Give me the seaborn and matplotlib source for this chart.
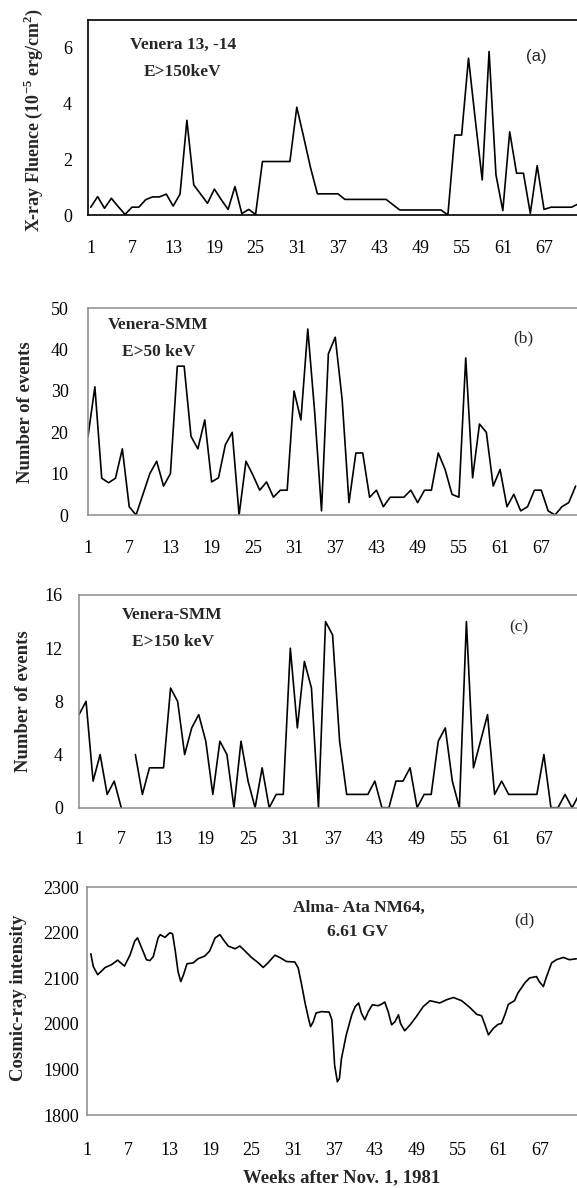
import numpy as np
import pandas as pd
import matplotlib
matplotlib.use("Agg")
import matplotlib.pyplot as plt
import seaborn as sns

# ---------------- data ----------------
weeks = list(range(1, 73))

fluence = [0.28, 0.66, 0.24, 0.6, 0.3, 0.02, 0.28, 0.28, 0.55, 0.65,
           0.65, 0.75, 0.32, 0.75, 3.4, 1.08, 0.75, 0.42, 0.93, 0.55,
           0.2, 1.02, 0.05, 0.2, 0.02, 1.92, 1.92, 1.92, 1.92, 1.92,
           3.87, 2.8, 1.7, 0.76, 0.76, 0.76, 0.76, 0.56, 0.56, 0.56,
           0.56, 0.56, 0.56, 0.56, 0.37, 0.18, 0.18, 0.18, 0.18, 0.18,
           0.18, 0.18, 0.0, 2.87, 2.87, 5.63, 3.4, 1.26, 5.87, 1.44,
           0.16, 2.99, 1.5, 1.5, 0.06, 1.77, 0.2, 0.28, 0.28, 0.28,
           0.28, 0.4]

events_50 = [19, 31, 8.9, 7.8, 8.9, 16, 2, 0, 5, 10,
             13, 7, 10, 36, 36, 19, 16, 23, 8, 9,
             17, 20, 0, 13, 9.7, 6, 8, 4.3, 6, 6,
             30, 23, 45, 25, 1, 39, 43, 28, 3, 15,
             15, 4.3, 6, 2, 4.3, 4.3, 4.3, 6, 3, 6,
             6, 15, 11, 5, 4.3, 38, 9, 22, 20, 7,
             11, 2, 5, 1, 2, 6, 6, 1, 0, 2,
             3, 7]

events_150 = [7, 8, 2, 4, 1, 2, 0, np.nan, 4, 1,
              3, 3, 3, 9, 8, 4, 6, 7, 5, 1,
              5, 4, 0, 5, 2, 0, 3, 0, 1, 1,
              12, 6, 11, 9, 0, 14, 13, 5, 1, 1,
              1, 1, 2, 0, 0, 2, 2, 3, 0, 1,
              1, 5, 6, 2, 0, 14, 3, 5, 7, 1,
              2, 1, 1, 1, 1, 1, 4, 0, 0, 1,
              0, 1]

cr_week = [1.6, 1.96, 2.6, 3.7, 4.6, 5.5, 6.5, 7.3, 8.0, 8.4,
           9.0, 9.7, 10.2, 10.7, 11.4, 11.7, 12.4, 13.1, 13.5, 13.9,
           14.3, 14.7, 15.1, 15.6, 16.5, 17.2, 18.2, 18.9, 19.7, 20.4,
           20.9, 21.6, 22.6, 23.3, 24.0, 25.0, 26.0, 26.7, 27.4, 28.4,
           29.1, 30.1, 31.3, 31.8, 32.3, 32.8, 33.3, 33.6, 34.0, 34.4,
           35.2, 36.3, 36.7, 36.9, 37.1, 37.5, 37.8, 38.1, 38.8, 39.6,
           40.1, 40.6, 41.0, 41.5, 42.0, 42.6, 43.4, 43.9, 44.4, 44.9,
           45.4, 45.9, 46.4, 46.7, 47.3, 48.1, 49.0, 50.0, 51.0, 52.4,
           53.4, 54.4, 55.6, 56.8, 57.8, 58.5, 59.0, 59.5, 60.2, 60.9,
           61.4, 61.9, 62.4, 63.3, 63.8, 64.8, 65.5, 66.5, 66.9, 67.5,
           67.9, 68.7, 69.4, 70.4, 71.3, 72.3]
cr_value = [2154, 2126, 2108, 2124, 2130, 2140, 2127, 2151, 2182, 2189,
            2167, 2141, 2139, 2148, 2189, 2196, 2190, 2200, 2198, 2160,
            2115, 2093, 2108, 2132, 2134, 2143, 2149, 2160, 2189, 2196,
            2185, 2171, 2165, 2171, 2161, 2146, 2134, 2124, 2134, 2151,
            2146, 2137, 2136, 2123, 2086, 2046, 2012, 1994, 2005, 2024,
            2027, 2026, 2009, 1961, 1910, 1873, 1880, 1924, 1976, 2020,
            2038, 2046, 2024, 2009, 2027, 2042, 2040, 2043, 2048, 2027,
            1998, 2005, 2020, 2001, 1985, 1998, 2016, 2038, 2051, 2046,
            2053, 2058, 2051, 2036, 2021, 2018, 1998, 1976, 1990, 1999,
            2001, 2020, 2043, 2051, 2068, 2090, 2101, 2104, 2093, 2082,
            2101, 2134, 2141, 2146, 2141, 2143]

xtick_weeks = [1, 7, 13, 19, 25, 31, 37, 43, 49, 55, 61, 67]

# ---------------- style ----------------
sns.set_style("white")
plt.rcParams["font.family"] = ["Liberation Serif", "DejaVu Serif"]
plt.rcParams["mathtext.fontset"] = "custom"
plt.rcParams["mathtext.rm"] = "Liberation Serif"
plt.rcParams["mathtext.bf"] = "Liberation Serif:bold"

W, H = 577, 1188
fig = plt.figure(figsize=(W / 100, H / 100), dpi=100)


def add_axes_px(left, top, right, bottom):
    return fig.add_axes([left / W, 1 - bottom / H, (right - left) / W, (bottom - top) / H])


def ftext(x, y, s, **kw):
    fig.text(x / W, 1 - y / H, s, ha="center", va="center", **kw)


def style(ax, spine_color, xlim, ylim, yticks, xpad, ypad, spine_lw):
    ax.set_xlim(*xlim)
    ax.set_ylim(*ylim)
    ax.set_xticks(xtick_weeks)
    ax.set_xticklabels([str(w) for w in xtick_weeks])
    ax.set_yticks(yticks)
    ax.set_yticklabels([str(v) for v in yticks])
    ax.tick_params(axis="both", which="both", direction="in", length=5, width=0.8,
                   color=spine_color, labelsize=13, labelcolor="black")
    ax.tick_params(axis="x", pad=xpad)
    ax.tick_params(axis="y", pad=ypad)
    ax.spines["right"].set_visible(False)
    for s in ("left", "top", "bottom"):
        ax.spines[s].set_color(spine_color)
        ax.spines[s].set_linewidth(spine_lw)
    ax.set_xlabel("")
    ax.set_ylabel("")
    ax.grid(False)


line_kw = dict(color="black", linewidth=1.2)

# ---- panel (a)
ax_a = add_axes_px(88, 20, 577, 215)
sns.lineplot(x=weeks, y=fluence, ax=ax_a, **line_kw)
style(ax_a, "black", (0.6, 71.8), (0, 7), [0, 2, 4, 6], 18, 11.5, 1.2)
ax_a.set_xticks(list(range(4, 72, 6)), minor=True)
ax_a.set_yticks([1, 3, 5], minor=True)
ax_a.tick_params(which="minor", direction="in", length=5, width=0.8, color="black")

# ---- panel (b)
ax_b = add_axes_px(88, 308.3, 577, 515)
sns.lineplot(x=weeks, y=events_50, ax=ax_b, **line_kw)
style(ax_b, "#8a8a8a", (1, 72.2), (0, 50), [0, 10, 20, 30, 40, 50], 18, 14, 1.1)

# ---- panel (c)
ax_c = add_axes_px(79, 595, 577, 807.7)
df_c = pd.DataFrame({"week": weeks, "events": events_150})
df_c["segment"] = (df_c["week"] > 8).astype(int)
df_c = df_c.dropna()
sns.lineplot(data=df_c, x="week", y="events", units="segment", estimator=None,
             ax=ax_c, **line_kw)
style(ax_c, "#8a8a8a", (1, 71.7), (0, 16), [0, 4, 8, 12, 16], 17, 11.5, 1.1)

# ---- panel (d)
ax_d = add_axes_px(86.7, 887.3, 577, 1115)
sns.lineplot(x=cr_week, y=cr_value, sort=False, estimator=None, ax=ax_d, **line_kw)
style(ax_d, "#8a8a8a", (1, 72.4), (1800, 2300), [1800, 1900, 2000, 2100, 2200, 2300],
      19.5, 5.5, 1.1)

# ---------------- texts ----------------
lab_kw = dict(fontsize=13.5, fontweight="bold", rotation=90)
ftext(33, 120, r"X-ray Fluence (10$^{\mathbf{-5}}$ erg/cm$^{\mathbf{2}}$)",
      fontsize=13, fontweight="bold", rotation=90)
ftext(25.5, 412, "Number of events", **lab_kw)
ftext(23.3, 701, "Number of events", **lab_kw)
ftext(18.3, 998, "Cosmic-ray intensity", **lab_kw)

ann_kw = dict(fontsize=12.5, fontweight="bold")
ftext(183.5, 45, "Venera 13, -14", **ann_kw)
ftext(182.5, 72, "E>150keV", **ann_kw)
ftext(158, 325, "Venera-SMM", **ann_kw)
ftext(159, 352, "E>50 keV", **ann_kw)
ftext(172, 615, "Venera-SMM", **ann_kw)
ftext(173.5, 642, "E>150 keV", **ann_kw)
ftext(359, 908, "Alma- Ata NM64,", **ann_kw)
ftext(357.5, 932, "6.61 GV", **ann_kw)

ftext(536, 57, "(a)", fontsize=12, family=["Liberation Sans", "DejaVu Sans"])
ftext(523, 338, "(b)", fontsize=12.5)
ftext(519, 627, "(c)", fontsize=12.5)
ftext(524, 920, "(d)", fontsize=12.5)

ftext(342, 1178, "Weeks after Nov. 1, 1981", fontsize=13.5, fontweight="bold")

fig.savefig("out.png", dpi=100)
